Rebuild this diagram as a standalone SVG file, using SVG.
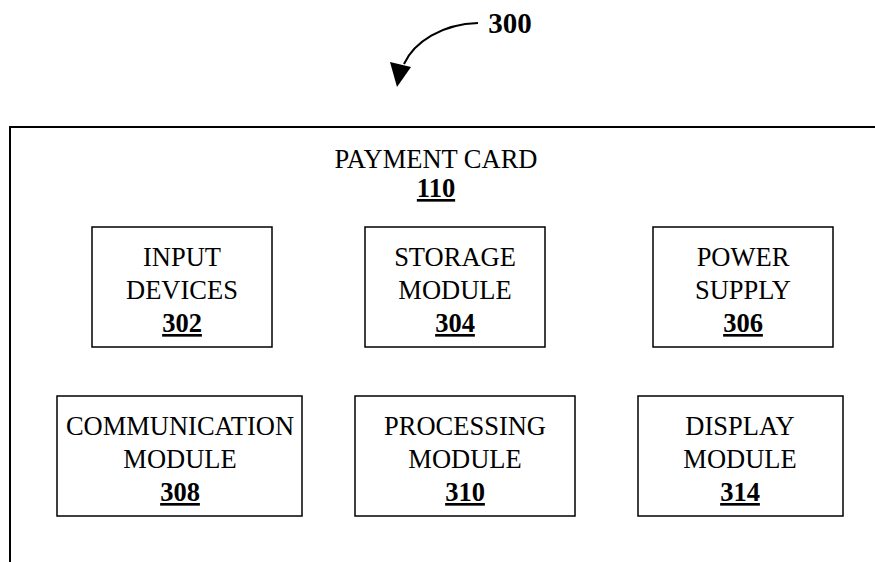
<svg xmlns="http://www.w3.org/2000/svg" width="875" height="562" viewBox="0 0 875 562">
<style>
.box{fill:#fff;stroke:#000;stroke-width:1.5}
.t{font-family:"Liberation Serif","Times New Roman",serif;font-size:26.5px;fill:#000;text-anchor:middle}
.n{font-weight:bold;text-decoration:underline}
.conn{fill:none;stroke:#000;stroke-width:2}
</style>
<rect width="875" height="562" fill="#fff"/>
<g id="label300">
<text x="510" y="33" class="t" style="font-weight:bold;font-size:29px">300</text>
</g>
<g id="connectors">
<path d="M478,23 C442,24 414,42 404,64" class="conn"/>
<polygon points="397,87 390,62 411,67" fill="#000"/>
</g>
<g id="card110">
<path d="M10,562 L10,127 L875,127" fill="none" stroke="#000" stroke-width="2"/>
<text x="436" y="168" class="t">PAYMENT CARD</text>
<text x="436" y="197" class="t n">110</text>
</g>
<g id="n302">
<rect x="92" y="227" width="180" height="120" class="box"/>
<text x="182" y="266" class="t">INPUT</text>
<text x="182" y="299" class="t">DEVICES</text>
<text x="182" y="332" class="t n">302</text>
</g>
<g id="n304">
<rect x="365" y="227" width="180" height="120" class="box"/>
<text x="455" y="266" class="t">STORAGE</text>
<text x="455" y="299" class="t">MODULE</text>
<text x="455" y="332" class="t n">304</text>
</g>
<g id="n306">
<rect x="653" y="227" width="180" height="120" class="box"/>
<text x="743" y="266" class="t">POWER</text>
<text x="743" y="299" class="t">SUPPLY</text>
<text x="743" y="332" class="t n">306</text>
</g>
<g id="n308">
<rect x="57" y="396" width="245" height="120" class="box"/>
<text x="180" y="435" class="t">COMMUNICATION</text>
<text x="180" y="468" class="t">MODULE</text>
<text x="180" y="501" class="t n">308</text>
</g>
<g id="n310">
<rect x="355" y="396" width="220" height="120" class="box"/>
<text x="465" y="435" class="t">PROCESSING</text>
<text x="465" y="468" class="t">MODULE</text>
<text x="465" y="501" class="t n">310</text>
</g>
<g id="n314">
<rect x="638" y="396" width="205" height="120" class="box"/>
<text x="740" y="435" class="t">DISPLAY</text>
<text x="740" y="468" class="t">MODULE</text>
<text x="740" y="501" class="t n">314</text>
</g>
</svg>
